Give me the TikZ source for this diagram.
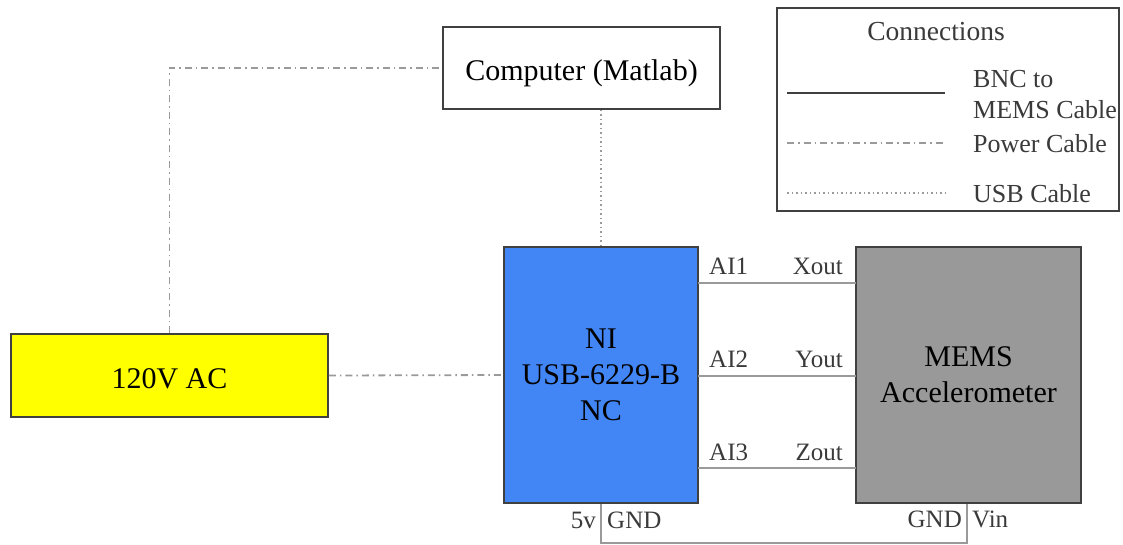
\documentclass[tikz,border=0pt]{standalone}
\usepackage{fontspec}
\setmainfont{Liberation Serif}
\definecolor{boxline}{HTML}{404040}
\definecolor{wire}{HTML}{9A9A9A}
\definecolor{niblue}{HTML}{4285F4}
\definecolor{memsgray}{HTML}{999999}
\definecolor{acyellow}{HTML}{FFFF00}
\definecolor{lbl}{HTML}{3A3A3A}
\begin{document}
\begin{tikzpicture}[x=1pt,y=-1pt,
  box/.style={draw=boxline,line width=1.8pt,inner sep=0pt,align=center,font=\fontsize{30}{36}\selectfont},
  bnc/.style={draw=wire,line width=1.8pt},
  power/.style={draw=wire,line width=1.8pt,dash pattern=on 7pt off 4pt on 1.5pt off 4pt},
  usb/.style={draw=wire,line width=1.8pt,dash pattern=on 1.5pt off 3pt},
  pin/.style={font=\fontsize{25}{30}\selectfont,text=lbl,inner sep=0pt},
  leg/.style={font=\fontsize{26}{31}\selectfont,text=lbl,inner sep=0pt,anchor=base west}]
\useasboundingbox (0,0) rectangle (1123,544);
% boxes
\node[box,minimum width=277pt,minimum height=82pt,text height=26pt,text depth=2pt] (pc) at (581.5,68) {Computer (Matlab)};
\node[box,fill=acyellow,minimum width=317pt,minimum height=83pt,text height=26pt,text depth=1pt] (ac) at (169.5,375.5) {120V AC};
\node[box,fill=niblue,minimum width=194pt,minimum height=256pt] (ni) at (601,375) {NI\\USB-6229-B\\NC};
\node[box,fill=memsgray,minimum width=225pt,minimum height=256pt] (mems) at (968.5,375) {MEMS\\Accelerometer};
% legend
\node[draw=boxline,line width=1.5pt,minimum width=342pt,minimum height=203pt,inner sep=0pt] (legbox) at (948,109.5) {};
\node[pin,font=\fontsize{27.5}{32}\selectfont,anchor=base] (legtitle) at (936,40) {Connections};
\coordinate (l1a) at (787,93); \coordinate (l1b) at (945,93);
\coordinate (l2a) at (787,143); \coordinate (l2b) at (945,143);
\coordinate (l3a) at (787,193); \coordinate (l3b) at (945,193);
\draw[draw=boxline,line width=1.8pt] (l1a) -- (l1b);
\draw[power] (l2a) -- (l2b);
\draw[usb] (l3a) -- (l3b);
\node[leg] (lt1) at (973,87) {BNC to};
\node[leg] (lt1b) at (973,118) {MEMS Cable};
\node[leg] (lt2) at (973,152) {Power Cable};
\node[leg] (lt3) at (973,202) {USB Cable};
% connectors
\draw[power] (ac.north) |- (pc.west);
\draw[power] (ac.east) -- (ni.west);
\draw[usb] (ni.north |- pc.south) -- (ni.north);
\coordinate (a1) at (698,283); \coordinate (x1) at (856,283);
\coordinate (a2) at (698,376); \coordinate (x2) at (856,376);
\coordinate (a3) at (698,468); \coordinate (x3) at (856,468);
\draw[bnc] (a1) -- (x1);
\draw[bnc] (a2) -- (x2);
\draw[bnc] (a3) -- (x3);
\coordinate (gl) at (601,543); \coordinate (gr) at (967,543);
\draw[bnc] (ni.south) -- (gl) -- (gr) -- (gr |- mems.south);
% pin labels
\node[pin,anchor=base west] (ai1) at (709,274) {AI1};
\node[pin,anchor=base west] (ai2) at (709,367) {AI2};
\node[pin,anchor=base west] (ai3) at (709,460) {AI3};
\node[pin,anchor=base east] (xo) at (843,274) {Xout};
\node[pin,anchor=base east] (yo) at (843,367) {Yout};
\node[pin,anchor=base east] (zo) at (843,460) {Zout};
\node[pin,anchor=base east] (v5) at (596,528) {5v};
\node[pin,anchor=base west] (g1) at (607,528) {GND};
\node[pin,anchor=base east] (g2) at (962,527) {GND};
\node[pin,anchor=base west] (vin) at (972,527) {Vin};
\end{tikzpicture}
\end{document}
